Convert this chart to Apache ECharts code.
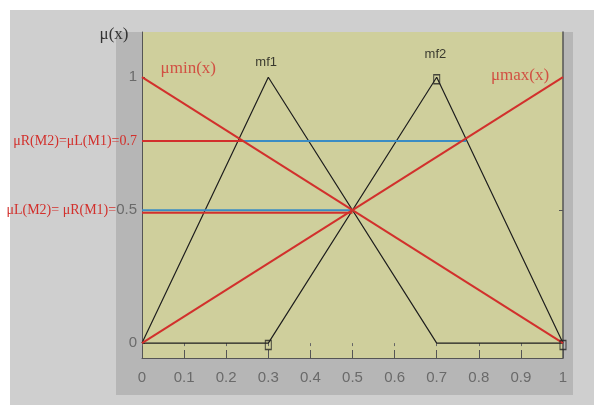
<!DOCTYPE html>
<html>
<head>
<meta charset="utf-8">
<script src="https://cdn.jsdelivr.net/npm/echarts@6/dist/echarts.min.js"></script>
<style>
  html, body { margin: 0; padding: 0; background: #fff; }
  #chart { width: 594px; height: 405px; }
</style>
</head>
<body>
<div id="chart"></div>
<script>
// membership functions (x, mu)
const mf1X = [0, 0.3, 0.7, 1];
const mf1Y = [0, 1, 0, 0];
const mf2X = [0, 0.3, 0.7, 1];
const mf2Y = [0, 0, 1, 0];
const muMinX = [0, 1];
const muMinY = [1, 0];
const muMaxX = [0, 1];
const muMaxY = [0, 1];

// horizontal level lines
const highLevel = 0.76;
const redHighX = [0, 0.24];
const blueHighX = [0.24, 0.77];
const midLevelBlue = 0.5;
const midLevelRed = 0.49;
const midX = [0, 0.5];

// markers (hollow squares)
const markX = [0.3, 0.7, 1];
const markY = [0, 1, 0];

// y axis labels
const yLabelValues = [0, 0.5, 0.76, 1];
const yLabelTexts = ['{g|0}', '{r|μL(M2)= μR(M1)=}{g|0.5}', '{r|μR(M2)=μL(M1)=0.7}', '{g|1}'];

// text notes in data coordinates
const mfNoteX = [0.295, 0.697];
const mfNoteY = [1.056, 1.086];
const mfNoteText = ['mf1', 'mf2'];
const muNoteX = [0.11, 0.898];
const muNoteY = [1.034, 1.008];
const muNoteText = ['μmin(x)', 'μmax(x)'];

const zip = (xs, ys) => xs.map((x, i) => [x, ys[i]]);
const flat = (xs, y) => xs.map(x => [x, y]);

const RED = '#d2302c';
const BLUE = '#3a8cc4';
const NARROW = "'Liberation Sans Narrow', 'Arial Narrow', 'Liberation Sans', sans-serif";
const SERIF = "'Liberation Serif', 'Times New Roman', serif";

const chart = echarts.init(document.getElementById('chart'));

const lineSeries = (data, color, width, z) => ({
    type: 'line',
    data: data,
    symbol: 'none',
    z: z,
    lineStyle: { color: color, width: width },
    animation: false
});

chart.setOption({
    backgroundColor: '#ffffff',
    animation: false,
    graphic: [
        { type: 'rect', z: -100, shape: { x: 10, y: 10, width: 584, height: 395 }, style: { fill: '#cfcfcf' } },
        { type: 'rect', z: -99, shape: { x: 116, y: 32, width: 457, height: 363 }, style: { fill: '#b6b6b6' } },
        { type: 'text', z: 10, x: 114, y: 35, style: {
            text: 'μ(x)', font: '17px ' + SERIF, fill: '#333', align: 'center', verticalAlign: 'middle' } }
    ],
    grid: {
        left: 142, top: 32, right: 31, bottom: 47,
        show: true, backgroundColor: '#cfcf9c', borderWidth: 0
    },
    xAxis: [{
        type: 'value', min: 0, max: 1, interval: 0.1,
        axisLine: { show: true, onZero: false, lineStyle: { color: '#555', width: 1 } },
        axisTick: { show: true, inside: true, length: 8, lineStyle: { color: '#555' } },
        axisLabel: { color: '#6a6a6a', fontFamily: NARROW, fontSize: 15, margin: 12,
            formatter: v => String(+v.toFixed(1)) },
        splitLine: { show: false }
    }, {
        type: 'value', min: 0, max: 1, interval: 0.1, position: 'top',
        axisLine: { show: false },
        axisTick: { show: true, inside: true, length: 3, lineStyle: { color: '#666' } },
        axisLabel: { show: false },
        splitLine: { show: false }
    }],
    yAxis: [{
        type: 'value', min: -0.056, max: 1.17,
        axisLine: { show: true, onZero: false, lineStyle: { color: '#555', width: 1 } },
        axisTick: { show: true, inside: true, length: 3, customValues: [0, 0.5, 1], lineStyle: { color: '#555' } },
        axisLabel: {
            customValues: yLabelValues, margin: 5,
            formatter: v => yLabelTexts[yLabelValues.indexOf(v)],
            rich: {
                g: { color: '#6a6a6a', fontFamily: NARROW, fontSize: 15 },
                r: { color: RED, fontFamily: SERIF, fontSize: 14 }
            }
        },
        splitLine: { show: false }
    }, {
        type: 'value', min: -0.056, max: 1.17, position: 'right',
        axisLine: { show: true, onZero: false, lineStyle: { color: '#555', width: 1.5 } },
        axisTick: { show: true, inside: true, length: 4, customValues: [0.5], lineStyle: { color: '#555' } },
        axisLabel: { show: false },
        splitLine: { show: false }
    }],
    series: [
        lineSeries(zip(mf1X, mf1Y), '#1e1e1e', 1.2, 2),
        lineSeries(zip(mf2X, mf2Y), '#1e1e1e', 1.2, 2),
        lineSeries(flat(blueHighX, highLevel), BLUE, 2, 3),
        lineSeries(flat(midX, midLevelBlue), BLUE, 2, 3),
        lineSeries(flat(redHighX, highLevel), RED, 2, 4),
        lineSeries(flat(midX, midLevelRed), RED, 2, 4),
        lineSeries(zip(muMinX, muMinY), RED, 2, 5),
        lineSeries(zip(muMaxX, muMaxY), RED, 2, 5),
        {
            type: 'scatter', z: 6, animation: false,
            data: zip(markX, markY),
            symbol: 'rect', symbolSize: [6, 9], symbolOffset: [0, 2],
            itemStyle: { color: 'rgba(0,0,0,0)', borderColor: '#222', borderWidth: 1.2 }
        },
        {
            type: 'scatter', z: 7, animation: false, symbolSize: 0,
            data: zip(mfNoteX, mfNoteY).map((p, i) => ({ value: p, name: mfNoteText[i] })),
            label: { show: true, position: 'inside', formatter: p => p.name,
                color: '#111', fontFamily: NARROW, fontSize: 13 }
        },
        {
            type: 'scatter', z: 7, animation: false, symbolSize: 0,
            data: zip(muNoteX, muNoteY).map((p, i) => ({ value: p, name: muNoteText[i] })),
            label: { show: true, position: 'inside', formatter: p => p.name,
                color: RED, fontFamily: SERIF, fontSize: 17 }
        }
    ]
});
</script>
</body>
</html>
